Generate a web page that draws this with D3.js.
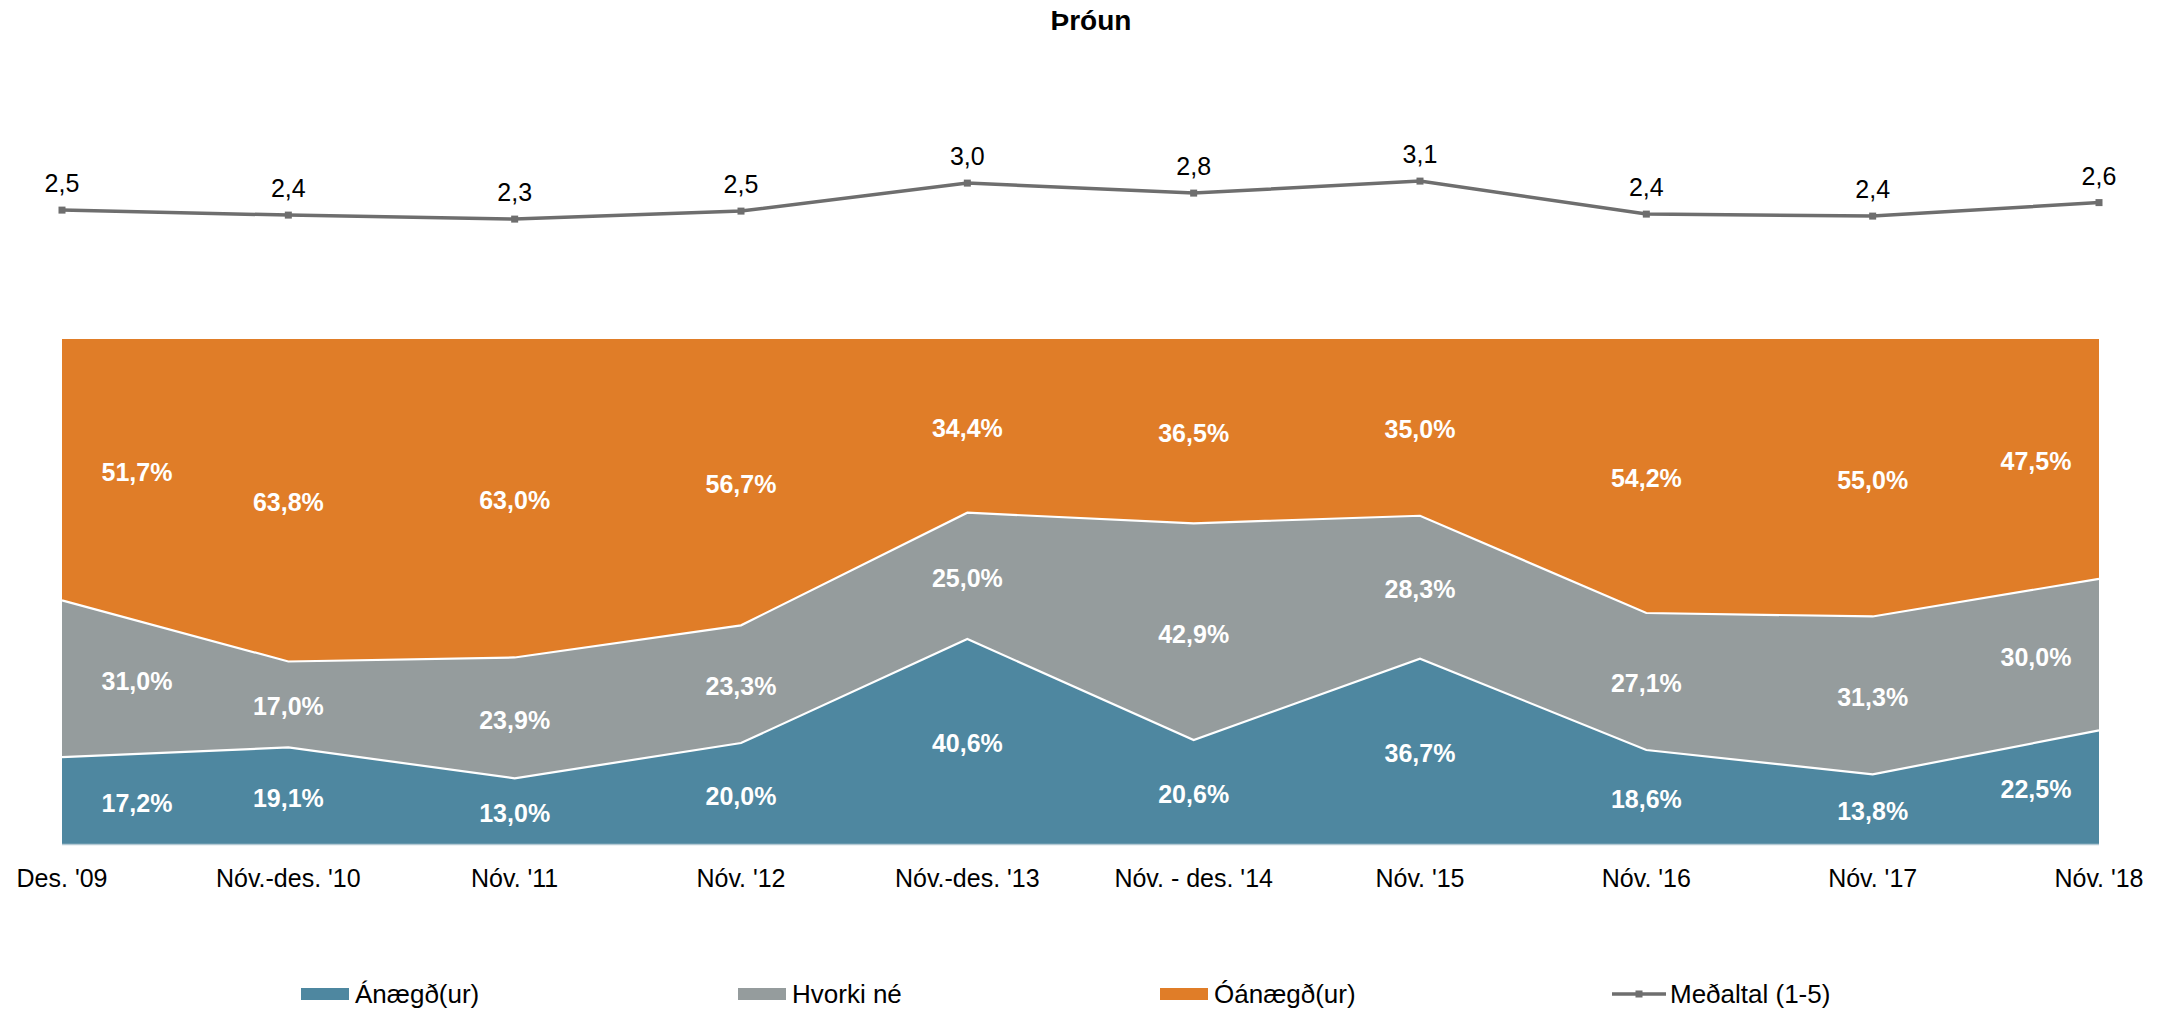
<!DOCTYPE html>
<html>
<head>
<meta charset="utf-8">
<script src="https://cdn.jsdelivr.net/npm/d3@7"></script>
<style>
  html, body { margin: 0; padding: 0; background: #fff; }
  svg { display: block; font-family: "Liberation Sans", Arial, sans-serif; }
</style>
</head>
<body>
<svg id="chart" width="2179" height="1012"></svg>
<script>
// ---- data ----
const categories = ["Des. '09", "Nóv.-des. '10", "Nóv. '11", "Nóv. '12", "Nóv.-des. '13",
                    "Nóv. - des. '14", "Nóv. '15", "Nóv. '16", "Nóv. '17", "Nóv. '18"];
const anaegd   = [17.2, 19.1, 13.0, 20.0, 40.6, 20.6, 36.7, 18.6, 13.8, 22.5];
const hvorki   = [31.0, 17.0, 23.9, 23.3, 25.0, 42.9, 28.3, 27.1, 31.3, 30.0];
const oanaegd  = [51.7, 63.8, 63.0, 56.7, 34.4, 36.5, 35.0, 54.2, 55.0, 47.5];
const medaltal = [2.49, 2.39, 2.31, 2.47, 3.03, 2.83, 3.07, 2.41, 2.37, 2.64];
const seriesNames = ["Ánægð(ur)", "Hvorki né", "Óánægð(ur)", "Meðaltal (1-5)"];
const title = "Þróun";

// ---- layout / style ----
const colors = ["#4e87a0", "#959c9d", "#e07d28"];
const lineColor = "#6e6e6e";
const svg = d3.select("#chart");

const x = d3.scalePoint().domain(categories).range([62, 2099]);
const y = d3.scaleLinear().domain([0, 1]).range([844, 339]);
const yAvg = d3.scaleLinear().domain([1, 5]).range([284.6, 84.6]);

const rows = categories.map((c, i) => ({ cat: c, a: anaegd[i], h: hvorki[i], o: oanaegd[i] }));
const keys = ["a", "h", "o"];
const stacked = d3.stack().keys(keys).offset(d3.stackOffsetExpand)(rows);

const area = d3.area()
  .x(d => x(d.data.cat))
  .y0(d => y(d[0]))
  .y1(d => y(d[1]));

svg.append("g").selectAll("path")
  .data(stacked).join("path")
  .attr("d", area)
  .attr("fill", (d, i) => colors[i]);

// white separators
const topLine = d3.line().x(d => x(d.data.cat)).y(d => y(d[1]));
svg.append("g").selectAll("path")
  .data(stacked.slice(0, 2)).join("path")
  .attr("d", topLine)
  .attr("fill", "none")
  .attr("stroke", "#fff")
  .attr("stroke-width", 2.2);

// baseline axis line
svg.append("line")
  .attr("x1", x.range()[0]).attr("x2", x.range()[1])
  .attr("y1", y(0) + 0.5).attr("y2", y(0) + 0.5)
  .attr("stroke", "#b4c9d4").attr("stroke-width", 1.5);

// data labels
const fmtPct = v => d3.format(".1f")(v).replace(".", ",") + "%";
const rawByKey = { a: anaegd, h: hvorki, o: oanaegd };
const n = categories.length;
stacked.forEach(layer => {
  svg.append("g").selectAll("text")
    .data(layer).join("text")
    .attr("x", (d, i) => x(d.data.cat) + (i === 0 ? 75 : i === n - 1 ? -63 : 0))
    .attr("y", d => y((d[0] + d[1]) / 2))
    .attr("dy", "0.44em")
    .attr("text-anchor", "middle")
    .attr("font-size", 25)
    .attr("font-weight", "bold")
    .attr("fill", "#fff")
    .text((d, i) => fmtPct(rawByKey[layer.key][i]));
});

// average line
const avgData = categories.map((c, i) => ({ cat: c, v: medaltal[i] }));
svg.append("path")
  .datum(avgData)
  .attr("d", d3.line().x(d => x(d.cat)).y(d => yAvg(d.v)))
  .attr("fill", "none")
  .attr("stroke", lineColor)
  .attr("stroke-width", 3.5);
svg.append("g").selectAll("rect")
  .data(avgData).join("rect")
  .attr("x", d => x(d.cat) - 3.5)
  .attr("y", d => yAvg(d.v) - 3.5)
  .attr("width", 7).attr("height", 7)
  .attr("fill", lineColor);
svg.append("g").selectAll("text")
  .data(avgData).join("text")
  .attr("x", d => x(d.cat))
  .attr("y", d => yAvg(d.v) - 18)
  .attr("text-anchor", "middle")
  .attr("font-size", 25)
  .attr("fill", "#000")
  .text(d => d3.format(".1f")(d.v).replace(".", ","));

// x-axis labels
svg.append("g").selectAll("text")
  .data(categories).join("text")
  .attr("x", d => x(d))
  .attr("y", 887)
  .attr("text-anchor", "middle")
  .attr("font-size", 25)
  .attr("fill", "#000")
  .text(d => d);

// title
svg.append("text")
  .attr("x", 1091)
  .attr("y", 30)
  .attr("text-anchor", "middle")
  .attr("font-size", 28)
  .attr("font-weight", "bold")
  .attr("fill", "#000")
  .text(title);

// legend
const legendX = [301, 738, 1160, 1612];
const legendY = 994;
const lg = svg.append("g").selectAll("g")
  .data(seriesNames).join("g")
  .attr("transform", (d, i) => `translate(${legendX[i]},${legendY})`);
lg.each(function(d, i) {
  const g = d3.select(this);
  if (i < 3) {
    g.append("rect").attr("x", 0).attr("y", -6).attr("width", 48).attr("height", 12).attr("fill", colors[i]);
    g.append("text").attr("x", 54).attr("y", 0).attr("dy", "0.36em")
      .attr("font-size", 26).attr("fill", "#000").text(d);
  } else {
    g.append("line").attr("x1", 0).attr("x2", 54).attr("y1", 0).attr("y2", 0)
      .attr("stroke", lineColor).attr("stroke-width", 3.5);
    g.append("rect").attr("x", 23.5).attr("y", -3.5).attr("width", 7).attr("height", 7).attr("fill", lineColor);
    g.append("text").attr("x", 58).attr("y", 0).attr("dy", "0.36em")
      .attr("font-size", 26).attr("fill", "#000").text(d);
  }
});
</script>
</body>
</html>
